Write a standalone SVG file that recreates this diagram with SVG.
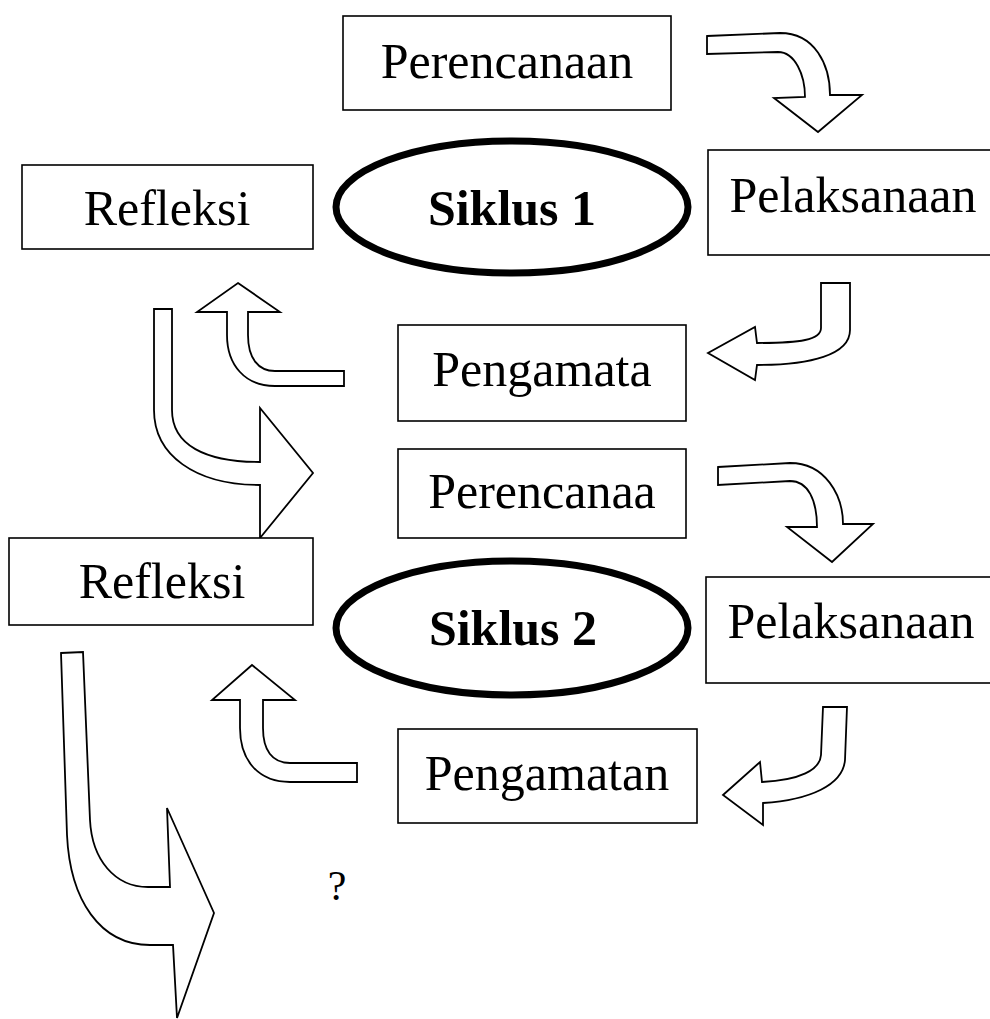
<svg xmlns="http://www.w3.org/2000/svg" width="990" height="1019" viewBox="0 0 990 1019">
<style>
.box{fill:#fff;stroke:#000;stroke-width:1.6}
.cyc{fill:#fff;stroke:#000;stroke-width:7}
.arr{fill:#fff;stroke:#000;stroke-width:1.8;stroke-linejoin:miter}
.t{font-family:"Liberation Serif","Times New Roman",serif;font-size:50px;fill:#000;text-anchor:middle}
.b{font-weight:bold}
</style>
<rect width="990" height="1019" fill="#fff"/>
<g id="connectors">
<path class="arr" d="M707,36 L780,33 C815,33 830,65 830,95 L862,95 L818,132 L774,98 L805,97 C805,75 795,52 778,52 L707,54 Z"/>
<path class="arr" d="M821,283 L850,283 L850,330 C850,355 810,365 757,365 L755,380 L708,353 L755,327 L757,343 C800,343 821,340 821,328 Z"/>
<path class="arr" d="M238,283 L280,312 L248,312 L248,335 C248,358 258,371 275,371 L344,371 L344,386 L275,386 C245,386 227,365 227,335 L227,312 L197,312 Z"/>
<path class="arr" d="M154,309 L172,309 L172,410 C172,445 205,462 260,462 L260,408 L313,473 L260,538 L260,485 C195,485 154,455 154,410 Z"/>
<path class="arr" d="M718,467 L790,463 C825,463 843,495 843,524 L873,524 L832,562 L787,527 L817,527 C817,500 808,481 790,481 L718,485 Z"/>
<path class="arr" d="M823,707 L847,707 L845,760 C843,785 810,800 763,803 L763,825 L723,795 L760,762 L762,782 C800,780 820,770 821,755 Z"/>
<path class="arr" d="M252,665 L295,700 L263,700 L263,728 C263,750 272,763 290,763 L357,763 L357,782 L290,782 C258,782 240,760 240,728 L240,700 L212,700 Z"/>
<path class="arr" d="M61,653 L83,652 L90,820 C92,860 115,887 148,887 L170,887 L167,808 L214,913 L177,1018 L173,945 L150,945 C100,945 70,900 67,835 Z"/>
</g>
<g id="perencanaan1"><rect class="box" x="343" y="16" width="328" height="94"/><text class="t" x="507" y="78">Perencanaan</text></g>
<g id="refleksi1"><rect class="box" x="22" y="165" width="291" height="84"/><text class="t" x="167" y="225">Refleksi</text></g>
<g id="siklus1"><ellipse class="cyc" cx="512" cy="207" rx="176" ry="66"/><text class="t b" x="512" y="225">Siklus 1</text></g>
<g id="pelaksanaan1"><rect class="box" x="708" y="150" width="290" height="105"/><text class="t" x="853" y="212">Pelaksanaan</text></g>
<g id="pengamata"><rect class="box" x="398" y="325" width="288" height="96"/><text class="t" x="542" y="386">Pengamata</text></g>
<g id="perencanaa"><rect class="box" x="398" y="449" width="288" height="89"/><text class="t" x="542" y="508">Perencanaa</text></g>
<g id="refleksi2"><rect class="box" x="9" y="538" width="304" height="87"/><text class="t" x="162" y="598">Refleksi</text></g>
<g id="siklus2"><ellipse class="cyc" cx="512" cy="628" rx="176" ry="67"/><text class="t b" x="513" y="645">Siklus 2</text></g>
<g id="pelaksanaan2"><rect class="box" x="706" y="577" width="292" height="106"/><text class="t" x="851" y="638">Pelaksanaan</text></g>
<g id="pengamatan"><rect class="box" x="398" y="729" width="299" height="94"/><text class="t" x="547" y="790">Pengamatan</text></g>
<g id="question"><text class="t" x="337" y="900" style="font-size:42px">?</text></g>
</svg>
